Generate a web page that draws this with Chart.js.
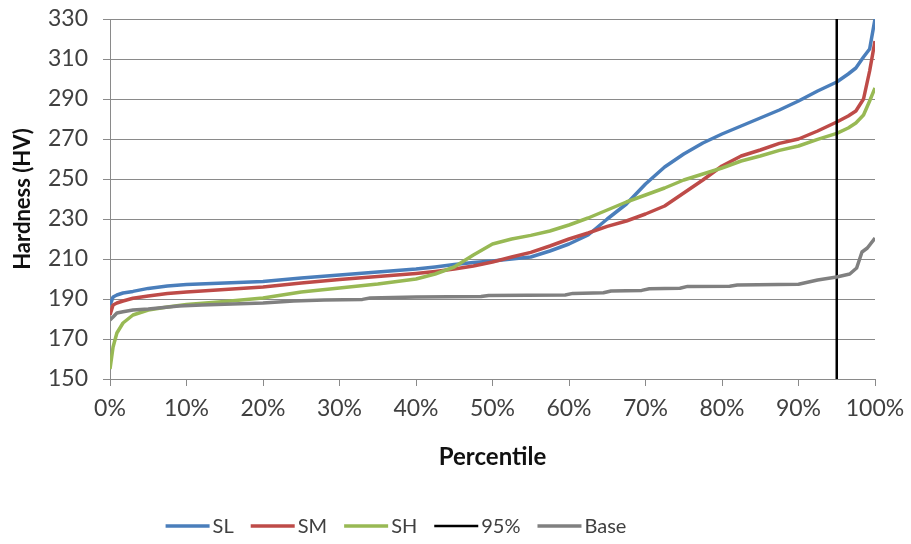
<!DOCTYPE html>
<html>
<head>
<meta charset="utf-8">
<title>Hardness percentiles</title>
<script src="https://cdn.jsdelivr.net/npm/chart.js@4.4.1/dist/chart.umd.min.js"></script>
<style>
  html, body { margin: 0; padding: 0; background: #fff; }
</style>
</head>
<body>
<canvas id="hardnessChart" width="911" height="544"></canvas>
<script>
// percentile positions (%) shared by the three weld series
const pct = [0, 0.4, 0.9, 1.7, 3, 5, 7.5, 10, 15, 20, 25, 30, 35, 40, 42.5, 45, 47.5, 50, 52.5, 55,
    57.5, 60, 62.5, 65, 67.5, 70, 72.5, 75, 77.5, 80, 82.5, 85, 87.5, 90, 92.5, 95, 96.5, 97.5, 98.5, 99.3, 100];

const slValues = [187, 191, 192, 193, 193.8, 195.3, 196.5, 197.2, 198, 198.8, 200.5, 202, 203.5, 205, 206, 207.2, 208.3, 209, 210, 211,
    214, 217.5, 222, 230, 237.5, 247.5, 256, 262.5, 268, 272.5, 276.5, 280.5, 284.5, 289, 294, 298.5, 302.5, 305.5, 311, 315, 330];

const smValues = [182, 187, 188, 189, 190.4, 191.5, 192.7, 193.5, 194.8, 196, 198, 199.8, 201.2, 202.8, 203.8, 205, 206.5, 208.5, 211, 213.3,
    216.5, 220, 223, 226.3, 229, 232.5, 236.5, 243, 249.5, 256.5, 261.5, 264.5, 267.8, 270, 274, 278.5, 281.5, 284, 290, 304, 319];

const shValues = [155, 166, 173, 178, 182, 184.5, 186, 187.3, 188.8, 190.5, 193.5, 195.5, 197.5, 200, 202.5, 206, 212, 217.5, 220, 221.8,
    224, 227, 230.5, 234.5, 238.5, 242, 245.5, 249.5, 252.5, 255.5, 259, 261.5, 264.3, 266.5, 269.8, 272.8, 275.5, 278, 282, 289, 295.5];

// base metal rises in small steps, so it gets its own percentile list
const basePct = [0, 0.4, 0.9, 1.7, 3, 5, 9, 12, 20, 24, 28, 33, 34, 40, 48.5, 49.5, 59.5, 60.5, 64.5, 65.5,
    69.5, 70.5, 74.5, 75.5, 81, 82, 90, 92.5, 95, 96.7, 97.6, 98.3, 99, 100];
const baseValues = [179.5, 181, 183, 183.6, 184.5, 185, 186.5, 187, 188, 189, 189.5, 189.8, 190.5, 191, 191.2, 191.8, 192, 192.8, 193.1, 194,
    194.3, 195.1, 195.4, 196.3, 196.4, 197, 197.4, 199.5, 201, 202.5, 205.5, 213.5, 215.5, 220.5];

const cutoffPct = 95;
const yRange = [150, 330];

const toPoints = (xs, ys) => xs.map((x, i) => ({ x: x, y: ys[i] }));

const gridColor = '#8a8a8a';
const tickColor = '#404040';

// legend drawn under the x axis title, line swatch followed by the label
const bottomLegend = {
    id: 'bottomLegend',
    afterDraw(chart) {
        const ctx = chart.ctx;
        const swatch = 44, gap = 3, spacing = 17;
        const y = 526;
        ctx.save();
        ctx.font = '20px Lato';
        const items = chart.data.datasets.map(ds => ({ ds: ds, w: ctx.measureText(ds.label).width }));
        const total = items.reduce((s, it) => s + swatch + gap + it.w, 0) + spacing * (items.length - 1);
        let x = 396 - total / 2;
        items.forEach(it => {
            ctx.strokeStyle = it.ds.borderColor;
            ctx.lineWidth = it.ds.borderWidth;
            ctx.beginPath();
            ctx.moveTo(x, y);
            ctx.lineTo(x + swatch, y);
            ctx.stroke();
            ctx.fillStyle = tickColor;
            ctx.textBaseline = 'middle';
            ctx.fillText(it.ds.label, x + swatch + gap, y + 1);
            x += swatch + gap + it.w + spacing;
        });
        ctx.restore();
    }
};

const data = {
    datasets: [
        { label: 'SL', data: toPoints(pct, slValues), borderColor: '#4a7ebb', borderWidth: 3.5, order: 5 },
        { label: 'SM', data: toPoints(pct, smValues), borderColor: '#be4b48', borderWidth: 3.5, order: 4 },
        { label: 'SH', data: toPoints(pct, shValues), borderColor: '#98b954', borderWidth: 3.5, order: 3 },
        { label: '95%', data: toPoints([cutoffPct, cutoffPct], yRange), borderColor: '#000000', borderWidth: 2.5, order: 2 },
        { label: 'Base', data: toPoints(basePct, baseValues), borderColor: '#808080', borderWidth: 3.5, order: 1 }
    ]
};

const config = {
    type: 'line',
    data: data,
    options: {
        responsive: false,
        animation: false,
        layout: {
            padding: { top: 19, right: 36, bottom: 60, left: 0 }
        },
        elements: {
            point: { radius: 0 },
            line: { tension: 0, borderJoinStyle: 'round', borderCapStyle: 'butt' }
        },
        scales: {
            x: {
                type: 'linear',
                min: 0,
                max: 100,
                ticks: {
                    stepSize: 10,
                    color: tickColor,
                    padding: 9,
                    maxRotation: 0,
                    font: { family: 'Lato', size: 23 },
                    callback: v => v + '%'
                },
                grid: { drawOnChartArea: false, color: gridColor, tickLength: 7 },
                border: { color: gridColor },
                title: {
                    display: true,
                    text: 'Percentile',
                    color: '#111',
                    font: { family: 'Lato', size: 24, weight: 'bold' },
                    padding: { top: 0, bottom: 12 }
                },
                afterFit: scale => {
                    scale.height = 105;
                    scale.paddingLeft = 0;
                    scale.paddingRight = 0;
                }
            },
            y: {
                min: yRange[0],
                max: yRange[1],
                ticks: {
                    stepSize: 20,
                    color: tickColor,
                    padding: 15,
                    font: { family: 'Lato', size: 23 }
                },
                grid: { color: gridColor, tickLength: 7 },
                border: { color: gridColor },
                title: {
                    display: true,
                    text: 'Hardness (HV)',
                    color: '#111',
                    font: { family: 'Lato', size: 22, weight: 'bold' },
                    padding: { top: 10, bottom: 0 }
                },
                afterFit: scale => {
                    scale.width = 110;
                    scale.paddingTop = 0;
                    scale.paddingBottom = 0;
                }
            }
        },
        plugins: {
            legend: { display: false },
            tooltip: { enabled: false }
        }
    },
    plugins: [bottomLegend]
};

const hardnessChart = new Chart(document.getElementById('hardnessChart'), config);
</script>
</body>
</html>
